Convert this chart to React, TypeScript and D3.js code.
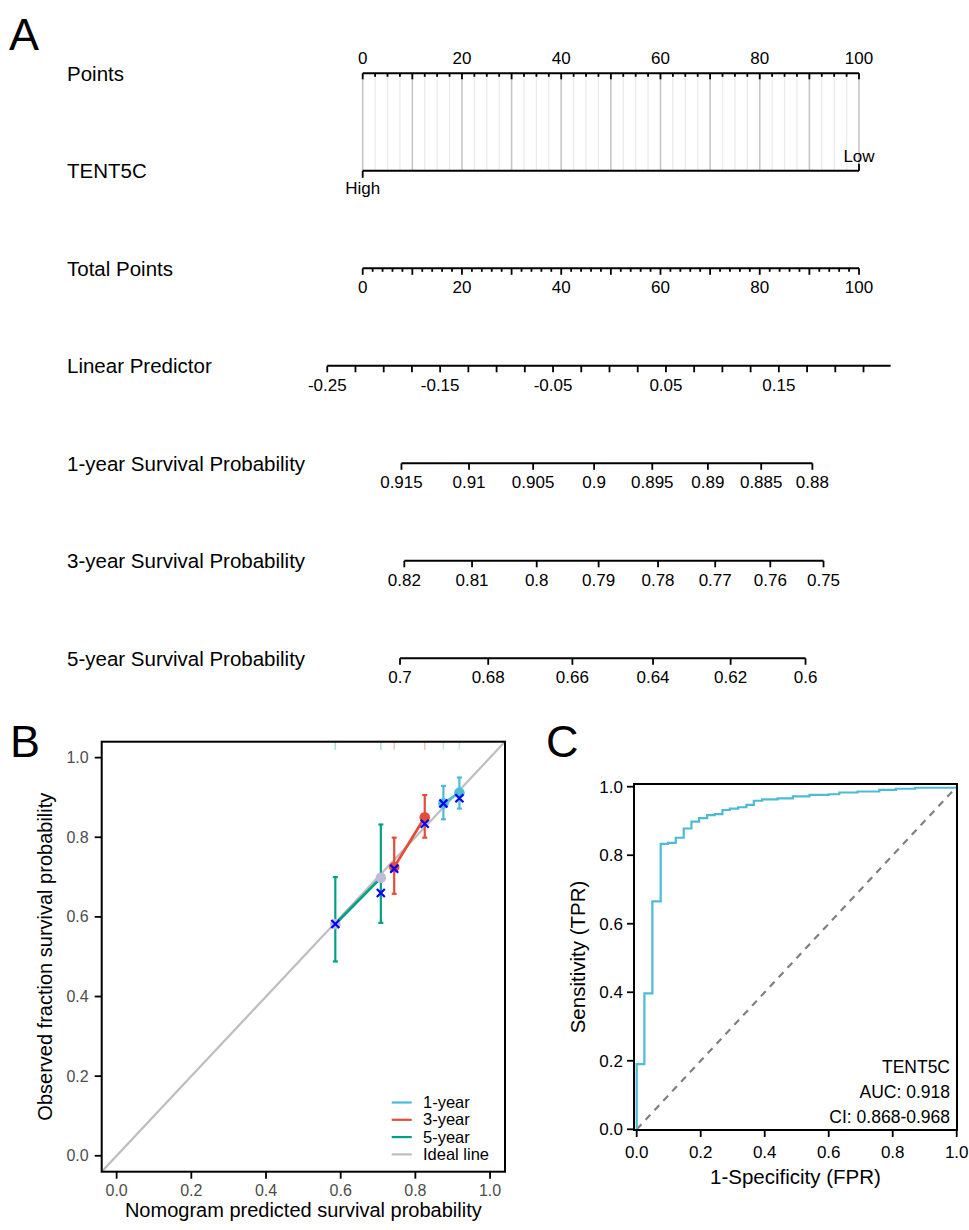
import React from 'react';
import * as d3 from 'd3';

const FONT = "'Liberation Sans', Arial, Helvetica, sans-serif";

// ---------- A: nomogram ----------
const ROW_LABELS = [
  'Points',
  'TENT5C',
  'Total Points',
  'Linear Predictor',
  '1-year Survival Probability',
  '3-year Survival Probability',
  '5-year Survival Probability',
];
const POINT_LABELS = [0, 20, 40, 60, 80, 100];
const TOTAL_LABELS = [0, 20, 40, 60, 80, 100];
const TENT5C_LEVELS = ['High', 'Low'];
const TENT5C_POINTS = [0, 100];
// linear predictor at total points 0 and 100
const LP_AT_TOTAL = [-0.2186, 0.221];
const LP_LABELS = [-0.25, -0.15, -0.05, 0.05, 0.15];
const LP_AXIS = [-0.25, 0.249];
const SURV_YEARS = ['1-year', '3-year', '5-year'];
const BASELINE_SURV = [0.8987, 0.7882, 0.6509];
const SURV_1Y = [0.915, 0.91, 0.905, 0.9, 0.895, 0.89, 0.885, 0.88];
const SURV_3Y = [0.82, 0.81, 0.8, 0.79, 0.78, 0.77, 0.76, 0.75];
const SURV_5Y = [0.7, 0.68, 0.66, 0.64, 0.62, 0.6];

// ---------- B: calibration ----------
const CAL_SERIES = ['1-year', '3-year', '5-year'];
const CAL_COLORS = ['#4DBBD5', '#E64B35', '#00A087'];
const CAL_POINT_COLORS = ['#4DBBD5', '#E64B35', '#BEBADA'];
const CAL_PRED = [[0.8751, 0.9179], [0.7433, 0.8251], [0.5856, 0.7075]];
const CAL_OBS = [[0.885, 0.912], [0.725, 0.85], [0.582, 0.698]];
const CAL_LOWER = [[0.845, 0.872], [0.658, 0.799], [0.488, 0.585]];
const CAL_UPPER = [[0.929, 0.95], [0.799, 0.906], [0.7, 0.832]];
const CAL_CORRECTED = [[0.885, 0.898], [0.721, 0.834], [0.582, 0.66]];
const CAL_TICKS = [0, 0.2, 0.4, 0.6, 0.8, 1.0];

// ---------- C: ROC ----------
const ROC_FPR = [0, 0, 0.024, 0.049, 0.075, 0.098, 0.122, 0.147, 0.171, 0.195, 0.22, 0.244, 0.268, 0.291, 0.317, 0.343, 0.366, 0.392, 0.44, 0.488, 0.54, 0.6, 0.633, 0.69, 0.758, 0.81, 0.87, 1];
const ROC_TPR = [0, 0.19, 0.397, 0.665, 0.833, 0.836, 0.851, 0.878, 0.898, 0.908, 0.917, 0.92, 0.932, 0.936, 0.94, 0.947, 0.959, 0.963, 0.966, 0.972, 0.976, 0.978, 0.983, 0.986, 0.991, 0.994, 0.997, 1];
const ROC_TICKS = [0, 0.2, 0.4, 0.6, 0.8, 1.0];
const ROC_TEXT = ['TENT5C', 'AUC: 0.918', 'CI: 0.868-0.968'];

function Nomogram() {
  const ptsX = d3.scaleLinear().domain([0, 100]).range([362.7, 859]);
  const lpX = d3.scaleLinear().domain(LP_AT_TOTAL).range(ptsX.range());
  const rowY = d3.scalePoint().domain(ROW_LABELS).range([73.3, 658.3]);
  const survX = (s: number, base: number) => lpX(Math.log(Math.log(s) / Math.log(base)));
  const survLists = [SURV_1Y, SURV_3Y, SURV_5Y];

  const yP = rowY('Points')!;
  const yT = rowY('TENT5C')!;
  const yTot = rowY('Total Points')!;
  const yLp = rowY('Linear Predictor')!;

  const ptMinor = d3.range(0, 100.001, 2.5);
  const totMinor = d3.range(0, 100.001, 2);
  const lpTicks = d3.range(-0.25, 0.2251, 0.025);

  return (
    <g fontFamily={FONT}>
      {ROW_LABELS.map((l) => (
        <text key={l} x={67} y={rowY(l)! + 7.5} fontSize={20.5}>{l}</text>
      ))}
      {/* grid under points */}
      {ptMinor.map((v) => (
        <line key={'g' + v} x1={ptsX(v)} x2={ptsX(v)} y1={yP} y2={yT}
          stroke={v % 10 === 0 ? '#c6c6c6' : '#ebebeb'} strokeWidth={v % 10 === 0 ? 1.6 : 1.3} />
      ))}
      {/* Points axis */}
      <line x1={ptsX(0)} x2={ptsX(100)} y1={yP} y2={yP} stroke="#000" strokeWidth={2} />
      {ptMinor.map((v) => (
        <line key={'pt' + v} x1={ptsX(v)} x2={ptsX(v)} y1={yP} y2={yP + (v % 10 === 0 ? 6 : 3.5)} stroke="#000" strokeWidth={1.8} />
      ))}
      {POINT_LABELS.map((v) => (
        <text key={'pl' + v} x={ptsX(v)} y={yP - 9} fontSize={17} textAnchor="middle">{v}</text>
      ))}
      {/* TENT5C */}
      <line x1={ptsX(TENT5C_POINTS[0])} x2={ptsX(TENT5C_POINTS[1])} y1={yT} y2={yT} stroke="#000" strokeWidth={2} />
      <line x1={ptsX(TENT5C_POINTS[0])} x2={ptsX(TENT5C_POINTS[0])} y1={yT} y2={yT + 7} stroke="#000" strokeWidth={1.8} />
      <line x1={ptsX(TENT5C_POINTS[1])} x2={ptsX(TENT5C_POINTS[1])} y1={yT} y2={yT - 7} stroke="#000" strokeWidth={1.8} />
      <text x={ptsX(TENT5C_POINTS[0])} y={yT + 23} fontSize={17} textAnchor="middle">{TENT5C_LEVELS[0]}</text>
      <text x={ptsX(TENT5C_POINTS[1])} y={yT - 9} fontSize={17} textAnchor="middle">{TENT5C_LEVELS[1]}</text>
      {/* Total points */}
      <line x1={ptsX(0)} x2={ptsX(100)} y1={yTot} y2={yTot} stroke="#000" strokeWidth={2} />
      {totMinor.map((v) => (
        <line key={'tt' + v} x1={ptsX(v)} x2={ptsX(v)} y1={yTot} y2={yTot + (v % 10 === 0 ? 6.5 : 3.5)} stroke="#000" strokeWidth={1.8} />
      ))}
      {TOTAL_LABELS.map((v) => (
        <text key={'tl' + v} x={ptsX(v)} y={yTot + 25} fontSize={17} textAnchor="middle">{v}</text>
      ))}
      {/* Linear predictor */}
      <line x1={lpX(LP_AXIS[0])} x2={lpX(LP_AXIS[1])} y1={yLp} y2={yLp} stroke="#000" strokeWidth={2} />
      {lpTicks.map((v, i) => (
        <line key={'lt' + i} x1={lpX(v)} x2={lpX(v)} y1={yLp} y2={yLp + 6.5} stroke="#000" strokeWidth={1.8} />
      ))}
      {LP_LABELS.map((v) => (
        <text key={'ll' + v} x={lpX(v)} y={yLp + 25} fontSize={17} textAnchor="middle">{String(v)}</text>
      ))}
      {/* survival axes */}
      {survLists.map((list, k) => {
        const y = rowY(`${SURV_YEARS[k]} Survival Probability`)!;
        const base = BASELINE_SURV[k];
        const xs = list.map((s) => survX(s, base));
        return (
          <g key={'s' + k}>
            <line x1={d3.min(xs)} x2={d3.max(xs)} y1={y} y2={y} stroke="#000" strokeWidth={2} />
            {list.map((s, i) => (
              <g key={i}>
                <line x1={xs[i]} x2={xs[i]} y1={y} y2={y + 6.5} stroke="#000" strokeWidth={1.8} />
                <text x={xs[i]} y={y + 25} fontSize={17} textAnchor="middle">{String(s)}</text>
              </g>
            ))}
          </g>
        );
      })}
    </g>
  );
}

function Calibration() {
  const x = d3.scaleLinear().domain([-0.04, 1.04]).range([101.7, 505]);
  const y = d3.scaleLinear().domain([-0.04, 1.04]).range([1171.7, 741.7]);
  const line = d3.line<number[]>().x((d) => x(d[0])).y((d) => y(d[1]));
  const [x0, x1] = x.range();
  const [y0, y1] = y.range();
  const legendItems = [...CAL_SERIES, 'Ideal line'];
  const legendColors = [...CAL_COLORS, '#BEBEBE'];

  return (
    <g fontFamily={FONT}>
      <clipPath id="calclip">
        <rect x={x0} y={y1} width={x1 - x0} height={y0 - y1} />
      </clipPath>
      <g clipPath="url(#calclip)">
        <line x1={x(-0.04)} y1={y(-0.04)} x2={x(1.04)} y2={y(1.04)} stroke="#BEBEBE" strokeWidth={2.2} />
        {CAL_PRED.map((preds, k) =>
          preds.map((p, i) => (
            <line key={`r${k}${i}`} x1={x(p)} x2={x(p)} y1={y1} y2={y1 + 8} stroke={CAL_COLORS[k]} strokeOpacity={0.35} strokeWidth={1.5} />
          )),
        )}
      </g>
      {CAL_PRED.map((preds, k) => (
        <g key={'s' + k}>
          {preds.map((p, i) => (
            <g key={i} stroke={CAL_COLORS[k]} strokeWidth={2.2}>
              <line x1={x(p)} x2={x(p)} y1={y(CAL_LOWER[k][i])} y2={y(CAL_UPPER[k][i])} />
              <line x1={x(p) - 2.5} x2={x(p) + 2.5} y1={y(CAL_LOWER[k][i])} y2={y(CAL_LOWER[k][i])} />
              <line x1={x(p) - 2.5} x2={x(p) + 2.5} y1={y(CAL_UPPER[k][i])} y2={y(CAL_UPPER[k][i])} />
            </g>
          ))}
          <path d={line(preds.map((p, i) => [p, CAL_OBS[k][i]]))!} fill="none" stroke={CAL_COLORS[k]} strokeWidth={2.8} />
        </g>
      ))}
      {CAL_PRED.map((preds, k) =>
        preds.map((p, i) => (
          <circle key={`c${k}${i}`} cx={x(p)} cy={y(CAL_OBS[k][i])} r={5.3} fill={CAL_POINT_COLORS[k]} />
        )),
      )}
      {CAL_PRED.map((preds, k) =>
        preds.map((p, i) => {
          const cx = x(p);
          const cy = y(CAL_CORRECTED[k][i]);
          const s = 4;
          return (
            <path key={`x${k}${i}`} d={`M${cx - s},${cy - s}L${cx + s},${cy + s}M${cx - s},${cy + s}L${cx + s},${cy - s}`} stroke="#0000FF" strokeWidth={2.2} />
          );
        }),
      )}
      <rect x={x0} y={y1} width={x1 - x0} height={y0 - y1} fill="none" stroke="#000" strokeWidth={2} />
      {CAL_TICKS.map((t) => (
        <g key={'xt' + t}>
          <line x1={x(t)} x2={x(t)} y1={y0} y2={y0 + 7} stroke="#000" strokeWidth={1.8} />
          <text x={x(t)} y={y0 + 24} fontSize={16} fill="#4D4D4D" textAnchor="middle">{t.toFixed(1)}</text>
          <line x1={x0 - 7} x2={x0} y1={y(t)} y2={y(t)} stroke="#000" strokeWidth={1.8} />
          <text x={x0 - 13} y={y(t) + 5.5} fontSize={16} fill="#4D4D4D" textAnchor="end">{t.toFixed(1)}</text>
        </g>
      ))}
      <text x={(x(0) + x(1)) / 2} y={1217} fontSize={20} textAnchor="middle">Nomogram predicted survival probability</text>
      <text transform={`translate(52,${(y(0) + y(1)) / 2}) rotate(-90)`} fontSize={20} textAnchor="middle">Observed fraction survival probability</text>
      {legendItems.map((l, i) => (
        <g key={l} transform={`translate(0,${1102.5 + i * 17.3})`}>
          <line x1={391.7} x2={411.7} y1={0} y2={0} stroke={legendColors[i]} strokeWidth={2.2} />
          <text x={423} y={5.5} fontSize={16.5}>{l}</text>
        </g>
      ))}
    </g>
  );
}

function Roc() {
  const x = d3.scaleLinear().domain([0, 1]).range([636.7, 956.7]);
  const y = d3.scaleLinear().domain([0, 1]).range([1129.3, 786.7]);
  const left = 634;
  const right = 957;
  const top = 784;
  const bottom = 1130;
  const path = d3
    .line<number>()
    .x((d) => x(ROC_FPR[d]))
    .y((d) => y(ROC_TPR[d]))
    .curve(d3.curveStepAfter)(d3.range(ROC_FPR.length));

  return (
    <g fontFamily={FONT}>
      <line x1={x(0)} y1={y(0)} x2={x(1)} y2={y(1)} stroke="#808080" strokeWidth={2.2} strokeDasharray="7,6" />
      <path d={path!} fill="none" stroke="#4DBBD5" strokeWidth={2.2} />
      <rect x={left} y={top} width={right - left} height={bottom - top} fill="none" stroke="#000" strokeWidth={2} />
      {ROC_TICKS.map((t) => (
        <g key={t}>
          <line x1={left - 7} x2={left} y1={y(t)} y2={y(t)} stroke="#000" strokeWidth={1.8} />
          <text x={left - 11} y={y(t) + 6} fontSize={17} textAnchor="end">{t.toFixed(1)}</text>
          <line x1={x(t)} x2={x(t)} y1={bottom} y2={bottom + 7} stroke="#000" strokeWidth={1.8} />
          <text x={x(t)} y={bottom + 28} fontSize={17} textAnchor="middle">{t.toFixed(1)}</text>
        </g>
      ))}
      {ROC_TEXT.map((t, i) => (
        <text key={t} x={950} y={1073 + i * 25} fontSize={17.5} textAnchor="end">{t}</text>
      ))}
      <text x={(left + right) / 2} y={1184} fontSize={20.5} textAnchor="middle">1-Specificity (FPR)</text>
      <text transform={`translate(585,${(top + bottom) / 2}) rotate(-90)`} fontSize={20.5} textAnchor="middle">Sensitivity (TPR)</text>
    </g>
  );
}

export default function App() {
  return (
    <svg width={969} height={1230} style={{ position: 'absolute', left: 0, top: 0, background: '#fff' }}>
      <rect width={969} height={1230} fill="#fff" />
      <g fontFamily={FONT} fontSize={45}>
        <text x={9} y={50}>A</text>
        <text x={10} y={757}>B</text>
        <text x={546} y={757}>C</text>
      </g>
      <Nomogram />
      <Calibration />
      <Roc />
    </svg>
  );
}
